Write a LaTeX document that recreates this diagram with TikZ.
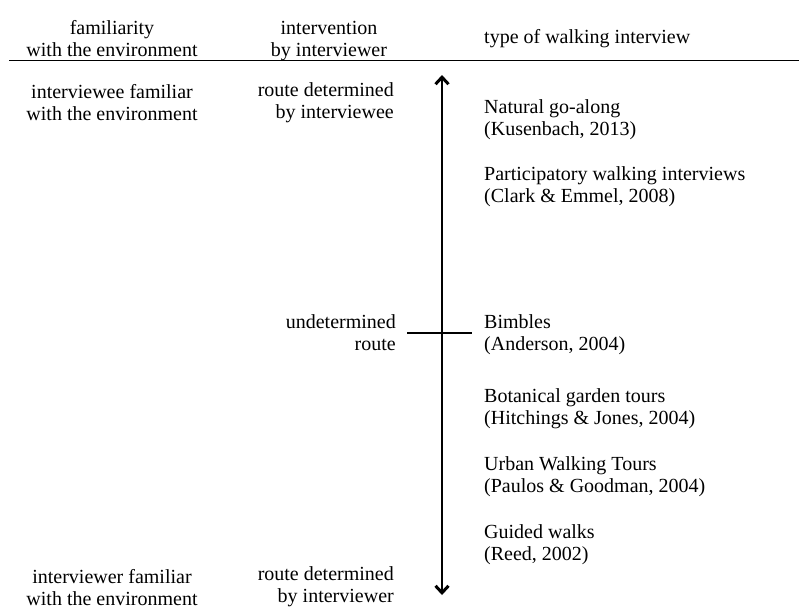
\documentclass[tikz,border=0pt]{standalone}
\usepackage{fontspec}
\setmainfont{Liberation Serif}
\usetikzlibrary{arrows.meta}
\begin{document}
\begin{tikzpicture}[x=1pt,y=-1pt,
  txt/.style={inner sep=0pt,font=\fontsize{20}{22}\selectfont},
  ctr/.style={txt,align=center,anchor=base},
  rgt/.style={txt,align=right,anchor=base east},
  lft/.style={txt,align=left,anchor=base west},
  rule/.style={line width=1.3pt},
  tip/.style={Straight Barb[length=7pt,width=13pt,line width=3pt]},
  axis/.style={line width=1.4pt,{Straight Barb[length=7pt,width=13pt,line width=3pt]}-{Straight Barb[length=7pt,width=13pt,line width=3pt]}}]
\useasboundingbox (0,0) rectangle (799,608);
% headers (anchor = baseline of last line)
\node[ctr] (h1) at (112,56) {familiarity\\with the environment};
\node[ctr] (h2) at (329,56) {intervention\\by interviewer};
\node[lft] (h3) at (484,43) {type of walking interview};
\coordinate (hl) at (9,60.5);
\coordinate (hr) at (799,60.5);
\draw[rule] (hl) -- (hr);
% left column
\node[ctr] (l1) at (112,120) {interviewee familiar\\with the environment};
\node[ctr] (l2) at (112,605) {interviewer familiar\\with the environment};
% middle column
\node[rgt] (m1) at (394,118) {route determined\\by interviewee};
\node[rgt] (m2) at (396,350) {undetermined\\route};
\node[rgt] (m3) at (394,602) {route determined\\by interviewer};
% axis
\coordinate (top) at (442,75);
\coordinate (bot) at (442,595);
\draw[axis] (bot) -- (top);
\coordinate (tl) at (407,333);
\coordinate (tr) at (472,333);
\draw[line width=1.1pt] (tl) -- (tr);
% right column
\node[lft] (r1) at (484,135) {Natural go-along\\(Kusenbach, 2013)};
\node[lft] (r2) at (484,202) {Participatory walking interviews\\(Clark \& Emmel, 2008)};
\node[lft] (r3) at (484,350) {Bimbles\\(Anderson, 2004)};
\node[lft] (r4) at (484,424) {Botanical garden tours\\(Hitchings \& Jones, 2004)};
\node[lft] (r5) at (484,492) {Urban Walking Tours\\(Paulos \& Goodman, 2004)};
\node[lft] (r6) at (484,560) {Guided walks\\(Reed, 2002)};
\end{tikzpicture}
\end{document}
